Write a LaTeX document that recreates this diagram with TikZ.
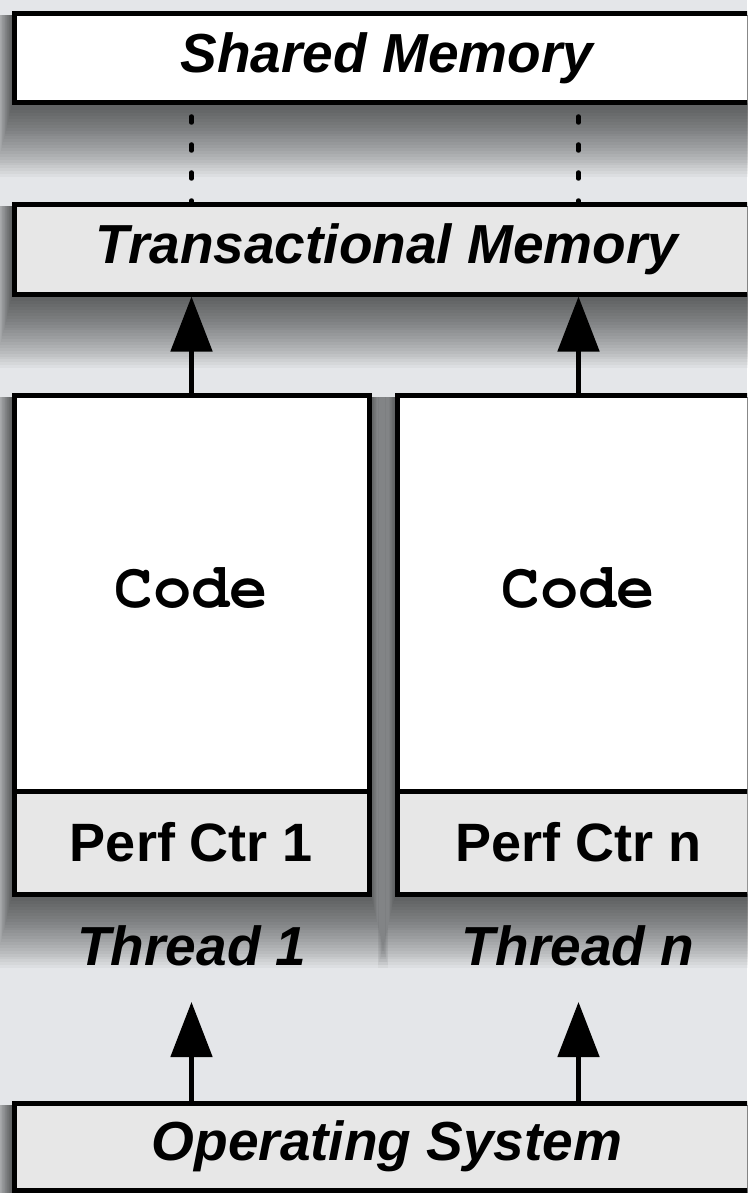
\documentclass[tikz,border=0pt]{standalone}
\usepackage{fontspec}
\setmainfont{Liberation Sans}
\usetikzlibrary{arrows.meta}

\definecolor{bgcol}{HTML}{E4E6E9}
\definecolor{boxgray}{HTML}{E7E7E7}

\newcommand\labfont{\fontsize{55}{60}\selectfont\bfseries\itshape}
\newcommand\ctrfont{\fontsize{54}{60}\selectfont\bfseries}
\newcommand\cdfont{\fontencoding{OT1}\fontfamily{pcr}\fontseries{b}\fontshape{n}\fontsize{64}{66}\selectfont}

\pgfdeclarelayer{canvas}
\pgfdeclarelayer{shade}
\pgfsetlayers{canvas,shade,main}

% soft drop shadow built from stacked translucent rectangles
\newcommand\dropshade[1]{%
  \begin{pgfonlayer}{shade}
    \foreach \i in {1,...,24}{%
      \fill[black, fill opacity=0.033]
        ([xshift=-0.7*\i pt, yshift=-4pt]#1.north west) rectangle
        ([xshift=0.7*\i pt, yshift={-2pt-2.9*\i pt}]#1.south east);
    }
  \end{pgfonlayer}}

\begin{document}
\begin{tikzpicture}[x=1pt,y=-1pt,
  layerbox/.style={draw=black, line width=5pt, rectangle, inner sep=0pt},
  uparrow/.style={line width=5pt, -{Triangle[length=55pt,width=41pt]}},
  link/.style={line width=4.5pt, line cap=round,
    dash pattern=on 6pt off 22pt, dash phase=17pt}
]
% canvas and background
\begin{pgfonlayer}{canvas}
  \fill[bgcol] (0,0) rectangle (747,1193);
\end{pgfonlayer}
\useasboundingbox (0,0) rectangle (747,1193);
\clip (0,0) rectangle (747,1193);

% memory layers
\node[layerbox, fill=white, minimum width=746pt, minimum height=89pt]
  (shared) at (387,58.5) {\labfont Shared Memory};
\node[layerbox, fill=boxgray, minimum width=746pt, minimum height=90pt]
  (tm) at (387,249) {\labfont Transactional Memory};

% thread columns: code area with performance counter below
\node[layerbox, fill=white, minimum width=355pt, minimum height=499pt]
  (col1) at (191.5,644.5) {};
\node[layerbox, fill=white, minimum width=363pt, minimum height=499pt]
  (coln) at (578.5,644.5) {};
\node[layerbox, fill=boxgray, minimum width=355pt, minimum height=103pt]
  (ctr1) at (191.5,842.5) {\ctrfont Perf Ctr 1};
\node[layerbox, fill=boxgray, minimum width=363pt, minimum height=103pt]
  (ctrn) at (578.5,842.5) {\ctrfont Perf Ctr n};
\node (code1) at (191.5,588) {\cdfont Code};
\node (coden) at (578.5,588) {\cdfont Code};

% thread labels
\node[anchor=base, inner sep=0pt] (t1) at (192,965) {\labfont Thread 1};
\node[anchor=base, inner sep=0pt] (tn) at (578,965) {\labfont Thread n};

% operating system
\node[layerbox, fill=boxgray, minimum width=746pt, minimum height=87pt]
  (os) at (387,1146.5) {\labfont Operating System};

% shadows under the boxes
\dropshade{shared}
\dropshade{tm}
\dropshade{col1}
\dropshade{coln}
\dropshade{os}

% connectors
\draw[link] (shared.south -| col1.north) -- (tm.north -| col1.north);
\draw[link] (shared.south -| coln.north) -- (tm.north -| coln.north);
\draw[uparrow] (col1.north) -- (col1.north |- tm.south);
\draw[uparrow] (coln.north) -- (coln.north |- tm.south);
\draw[uparrow] (os.north -| col1.north) -- ([yshift=-37pt]col1.north |- t1.base);
\draw[uparrow] (os.north -| coln.north) -- ([yshift=-37pt]coln.north |- tn.base);
\end{tikzpicture}
\end{document}
